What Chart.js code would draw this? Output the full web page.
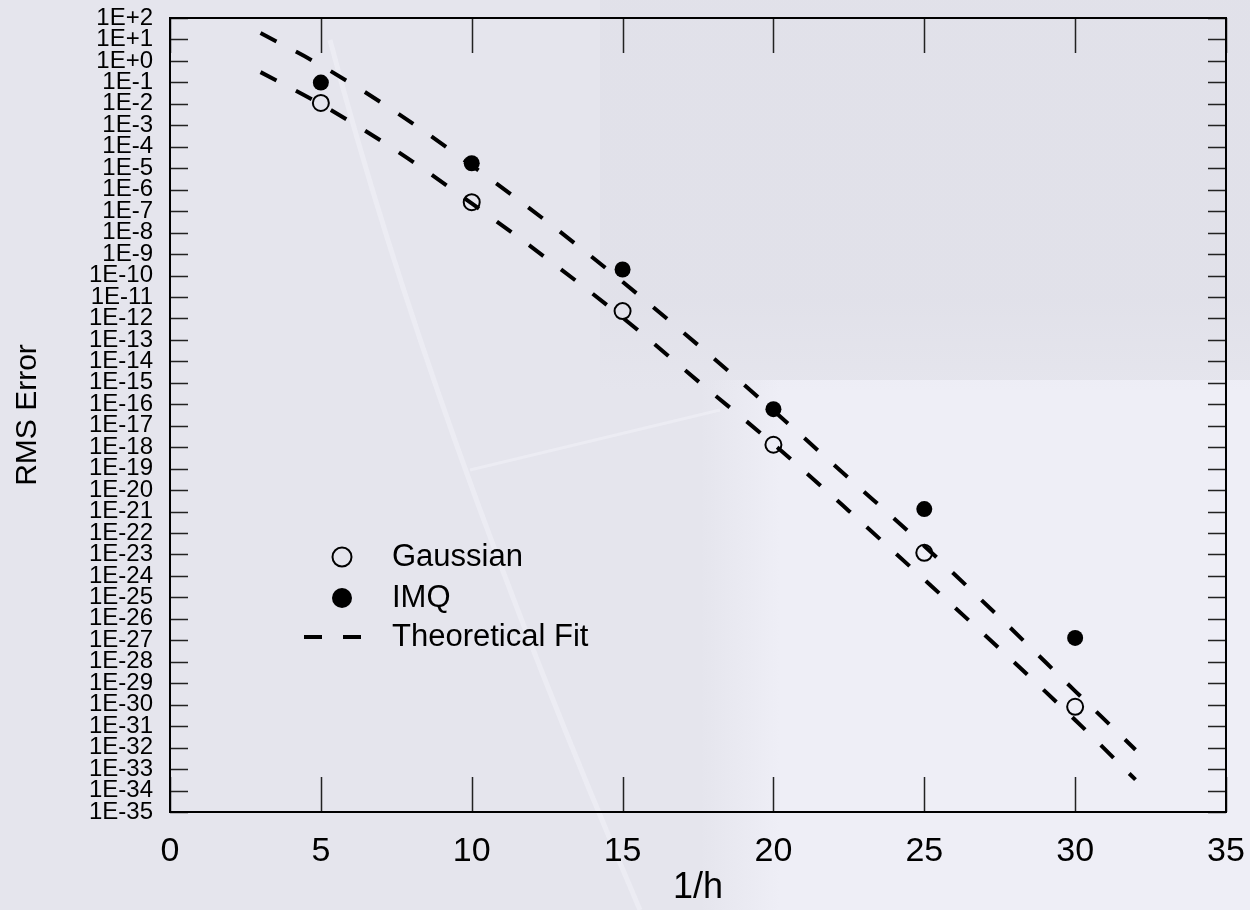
<!DOCTYPE html>
<html>
<head>
<meta charset="utf-8">
<title>RMS Error vs 1/h</title>
<script src="https://cdn.jsdelivr.net/npm/chart.js@4.4.1/dist/chart.umd.min.js"></script>
<style>
  html, body { margin: 0; padding: 0; background: #e5e5ed; }
  #wrap { width: 1250px; height: 910px; }
</style>
</head>
<body>
<div id="wrap"><canvas id="myChart" width="1250" height="910"></canvas></div>
<script>
// measured errors
const hValues = [5, 10, 15, 20, 25, 30]
const gaussianErr = [1.1e-2, 2.6e-7, 2.2e-12, 1.3e-18, 1.2e-23, 8e-31]
const imqErr = [9.8e-2, 1.7e-5, 1.9e-10, 5.9e-17, 1.3e-21, 1.3e-27]

// theoretical fit curves, read at these 1/h values
const fitH = [3, 5, 7.5, 10, 12.5, 15, 17.5, 20, 22.5, 25, 27.5, 30, 32]
const fitUpper = [2e1, 6.2e-1, 4e-3, 1.35e-5, 3.2e-8, 5.1e-11, 5.8e-14, 5.1e-17, 3.6e-20, 2.5e-23, 1.15e-26, 4.3e-30, 8e-33]
const fitLower = [3e-1, 9.5e-3, 6.6e-5, 2.3e-7, 6e-10, 1.1e-12, 1.2e-15, 1.4e-18, 1.07e-21, 6.8e-25, 4e-28, 1.95e-31, 3.2e-34]

// axis ticks
const xTicks = [0, 5, 10, 15, 20, 25, 30, 35]
const yExponents = []
for (let e = -35; e <= 2; e++) yExponents.push(e)
const yTickLabels = yExponents.map(e => '1E' + (e >= 0 ? '+' : '-') + Math.abs(e))

const legendItems = ['Gaussian', 'IMQ', 'Theoretical Fit']

const toPoints = (xs, ys) => xs.map((x, i) => ({ x: x, y: ys[i] }))

const backdrop = {
  id: 'backdrop',
  beforeDraw(chart) {
    const c = chart.ctx
    c.save()
    c.fillStyle = '#e5e5ed'
    c.fillRect(0, 0, chart.width, chart.height)
    // lighter panel lower right
    const g = c.createLinearGradient(700, 0, 780, 0)
    g.addColorStop(0, 'rgba(238,238,246,0)')
    g.addColorStop(1, 'rgba(238,238,246,1)')
    c.fillStyle = g
    c.fillRect(700, 380, chart.width - 700, chart.height - 380)
    // slightly darker, hazier upper right
    const d = c.createLinearGradient(0, 300, 0, 390)
    d.addColorStop(0, 'rgba(205,205,216,0.16)')
    d.addColorStop(1, 'rgba(205,205,216,0)')
    c.fillStyle = d
    c.fillRect(600, 0, chart.width - 600, 390)
    // faint light streaks
    c.strokeStyle = 'rgba(248,248,255,0.35)'
    c.lineWidth = 5
    c.beginPath()
    c.moveTo(330, 40)
    c.quadraticCurveTo(430, 420, 640, 910)
    c.stroke()
    c.lineWidth = 3
    c.beginPath()
    c.moveTo(470, 470)
    c.lineTo(720, 410)
    c.stroke()
    c.restore()
  }
}

const frameAndTicks = {
  id: 'frameAndTicks',
  beforeDatasetsDraw(chart) {
    const c = chart.ctx
    const { left, right, top, bottom } = chart.chartArea
    const xs = chart.scales.x
    const ys = chart.scales.y
    c.save()
    c.strokeStyle = '#222'
    c.lineWidth = 1.5
    xTicks.forEach(v => {
      const px = Math.round(xs.getPixelForValue(v)) + 0.5
      c.beginPath()
      c.moveTo(px, bottom); c.lineTo(px, bottom - 35)
      c.moveTo(px, top); c.lineTo(px, top + 35)
      c.stroke()
    })
    yExponents.forEach(e => {
      const py = Math.round(ys.getPixelForValue(Math.pow(10, e))) + 0.5
      c.beginPath()
      c.moveTo(left, py); c.lineTo(left + 18, py)
      c.moveTo(right - 18, py); c.lineTo(right, py)
      c.stroke()
    })
    c.strokeStyle = '#000'
    c.lineWidth = 2
    c.strokeRect(left, top, right - left, bottom - top)
    c.restore()
  },
  afterDatasetsDraw(chart) {
    const c = chart.ctx
    c.save()
    c.font = '31px "Liberation Sans", Arial, sans-serif'
    c.fillStyle = '#000'
    c.textBaseline = 'middle'
    const rows = [557, 598, 637]
    const mx = 342
    // open circle
    c.lineWidth = 2
    c.strokeStyle = '#000'
    c.beginPath(); c.arc(mx, rows[0], 9.5, 0, Math.PI * 2); c.stroke()
    // filled circle
    c.beginPath(); c.arc(mx, rows[1], 10, 0, Math.PI * 2); c.fill()
    // dashes
    c.lineWidth = 4
    c.beginPath()
    c.moveTo(304, rows[2]); c.lineTo(322, rows[2])
    c.moveTo(343, rows[2]); c.lineTo(361, rows[2])
    c.stroke()
    legendItems.forEach((t, i) => c.fillText(t, 392, rows[i]))
    c.restore()
  }
}

const ctx = document.getElementById('myChart').getContext('2d')

const fitStyle = {
  type: 'line',
  showLine: true,
  borderColor: '#000',
  borderWidth: 4,
  borderDash: [18, 22],
  borderCapStyle: 'butt',
  pointRadius: 0,
  cubicInterpolationMode: 'monotone',
  fill: false
}

const myChart = new Chart(ctx, {
  type: 'scatter',
  data: {
    datasets: [{
      label: 'Gaussian',
      data: toPoints(hValues, gaussianErr),
      pointStyle: 'circle',
      pointRadius: 8,
      pointBorderWidth: 2,
      pointBorderColor: '#000',
      pointBackgroundColor: 'rgba(0,0,0,0)'
    }, {
      label: 'IMQ',
      data: toPoints(hValues, imqErr),
      pointStyle: 'circle',
      pointRadius: 8,
      pointBorderWidth: 0,
      pointBackgroundColor: '#000'
    }, Object.assign({ label: 'Theoretical Fit', data: toPoints(fitH, fitUpper) }, fitStyle),
       Object.assign({ label: 'Theoretical Fit (Gaussian)', data: toPoints(fitH, fitLower) }, fitStyle)]
  },
  options: {
    responsive: false,
    animation: false,
    devicePixelRatio: 1,
    layout: {
      padding: { top: 18, right: 24, left: 0, bottom: 0 }
    },
    plugins: {
      legend: { display: false },
      tooltip: { enabled: false }
    },
    scales: {
      x: {
        type: 'linear',
        min: 0,
        max: 35,
        afterFit: s => { s.height = 98; s.paddingLeft = 0; s.paddingRight = 0 },
        afterBuildTicks: s => { s.ticks = xTicks.map(v => ({ value: v })) },
        grid: { display: false, drawTicks: false },
        border: { display: false },
        ticks: {
          padding: 19,
          color: '#000',
          font: { family: "'Liberation Sans', Arial, sans-serif", size: 34 }
        },
        title: {
          display: true,
          text: '1/h',
          color: '#000',
          padding: 0,
          font: { family: "'Liberation Sans', Arial, sans-serif", size: 36 }
        }
      },
      y: {
        type: 'logarithmic',
        min: 1e-35,
        max: 1e2,
        afterFit: s => { s.width = 170; s.paddingTop = 0; s.paddingBottom = 0 },
        afterBuildTicks: s => { s.ticks = yExponents.map(e => ({ value: Math.pow(10, e) })) },
        grid: { display: false, drawTicks: false },
        border: { display: false },
        ticks: {
          autoSkip: false,
          padding: 17,
          color: '#000',
          font: { family: "'Liberation Sans', Arial, sans-serif", size: 24, lineHeight: 1 },
          callback: (value, index) => yTickLabels[index]
        },
        title: {
          display: true,
          text: 'RMS Error',
          color: '#000',
          padding: { top: 10, bottom: 0 },
          font: { family: "'Liberation Sans', Arial, sans-serif", size: 30 }
        }
      }
    }
  },
  plugins: [backdrop, frameAndTicks]
});
</script>
</body>
</html>
